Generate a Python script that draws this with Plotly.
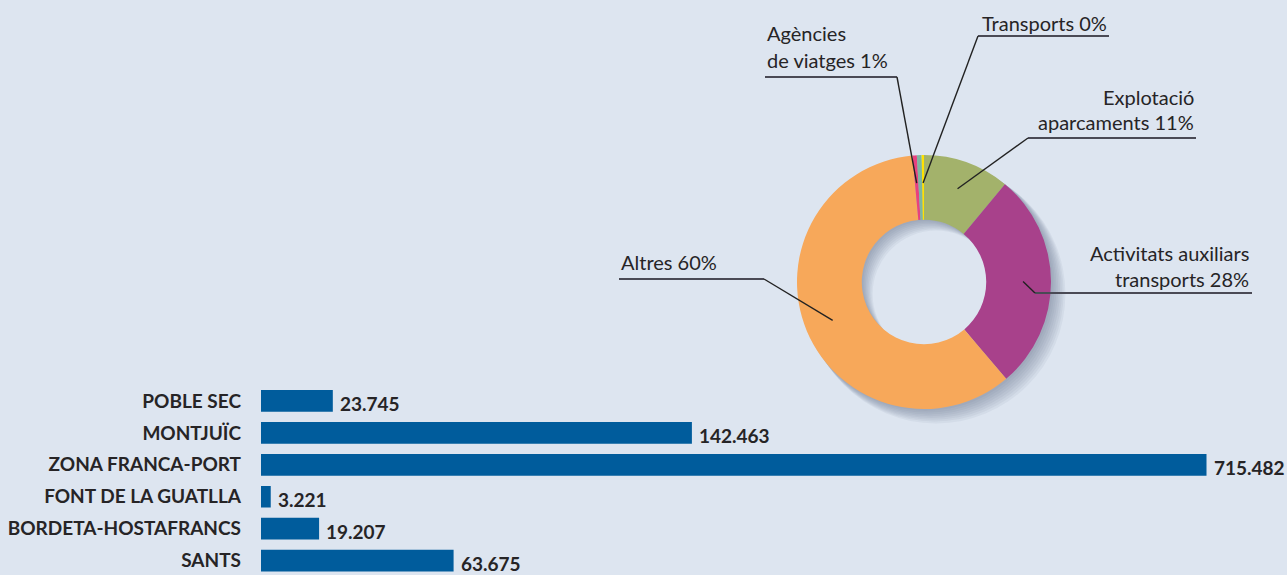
import math
import plotly.graph_objects as go

# ---------------- data ----------------
districts = ["POBLE SEC", "MONTJUÏC", "ZONA FRANCA-PORT",
             "FONT DE LA GUATLLA", "BORDETA-HOSTAFRANCS", "SANTS"]
district_values = [23745, 142463, 715482, 3221, 19207, 63675]

sector_lines = [["Explotació", "aparcaments"],
                ["Activitats auxiliars", "transports"],
                ["Altres"],
                ["Agències", "de viatges"],
                [],
                ["Transports"]]
sector_names = ["Explotació aparcaments", "Activitats auxiliars transports",
                "Altres", "Agències de viatges", "Altres serveis", "Transports"]
sector_values = [11.0, 27.8, 59.75, 0.55, 0.6, 0.3]
sector_colors = ["#a3b26b", "#a8418b", "#f7a85a", "#e8417f", "#7db6a1", "#ffe200"]

# ---------------- layout helpers ----------------
W, H = 1287, 575
BG = "#dde5f0"
TXT = "#262426"


def px(x):
    return x / W


def py(y):
    return 1 - y / H


fig = go.Figure()

# ---------------- bar chart ----------------
XMAX = 312600  # axis end; the largest bar is cut at the edge as in the original
fig.add_trace(go.Bar(
    x=district_values, y=districts, orientation="h",
    marker=dict(color="#005c9c", line=dict(width=0)),
    width=0.68, hoverinfo="x+y", xaxis="x", yaxis="y",
))
for d, v in zip(districts, district_values):
    fig.add_annotation(
        x=min(v, XMAX), y=d, xref="x", yref="y",
        text=f"{v:,}".replace(",", "."), showarrow=False,
        xanchor="left", yanchor="middle", xshift=5, yshift=-3,
        font=dict(family="Lato", size=19, color=TXT, weight="bold"),
    )

# ---------------- donut ----------------
dom_x = [px(797), px(1051)]
dom_y = [py(409), py(155)]
for k in range(2, 17, 2):
    fig.add_trace(go.Pie(
        values=[1], labels=["s"], hole=0.49, sort=False,
        marker=dict(colors=["rgba(95,110,140,0.075)"], line=dict(width=0)),
        textinfo="none", hoverinfo="skip", showlegend=False,
        domain=dict(x=[dom_x[0] + k * 0.6 / W, dom_x[1] + k * 0.9 / W],
                    y=[dom_y[0] - k * 0.9 / H, dom_y[1] - k * 0.6 / H]),
    ))
fig.add_trace(go.Pie(
    values=sector_values, labels=sector_names, hole=0.49, sort=False,
    direction="clockwise", rotation=0,
    marker=dict(colors=sector_colors, line=dict(width=0)),
    textinfo="none", hoverinfo="label+percent", showlegend=False,
    domain=dict(x=dom_x, y=dom_y),
))

# label placement (layout): text anchor x, side, line centres, underline y, underline x-range, elbow x
label_pos = {
    0: dict(tx=1196, side="right", ys=[97, 122], uy=138, ux=[1028, 1196], ex=1028),
    1: dict(tx=1251, side="right", ys=[253, 279], uy=293, ux=[1035, 1252], ex=1035),
    2: dict(tx=619, side="left", ys=[262], uy=279, ux=[619, 764], ex=764),
    3: dict(tx=765, side="left", ys=[33, 60], uy=77, ux=[765, 897], ex=897),
    5: dict(tx=980, side="left", ys=[23], uy=36, ux=[978, 1109], ex=978),
}
cx, cy, R = 924, 282, 127
total = sum(sector_values)
cum = 0.0
for i, v in enumerate(sector_values):
    mid = (cum + v / 2) / total * 2 * math.pi
    cum += v
    if i not in label_pos:
        continue
    p = label_pos[i]
    lines = list(sector_lines[i])
    lines[-1] = f"{lines[-1]} {v:.0f}%"
    for line, yy in zip(lines, p["ys"]):
        fig.add_annotation(
            x=px(p["tx"]), y=py(yy), xref="paper", yref="paper",
            text=line, showarrow=False, xanchor=p["side"], yanchor="middle",
            font=dict(family="Lato", size=20, color=TXT),
        )
    fig.add_shape(type="line", xref="paper", yref="paper",
                  x0=px(p["ux"][0]), x1=px(p["ux"][1]), y0=py(p["uy"]), y1=py(p["uy"]),
                  line=dict(color="#4a4a55", width=2.2))
    rr = 0.78 * R
    ex_, ey_ = cx + rr * math.sin(mid), cy - rr * math.cos(mid)
    fig.add_shape(type="line", xref="paper", yref="paper",
                  x0=px(p["ex"]), y0=py(p["uy"]), x1=px(ex_), y1=py(ey_),
                  line=dict(color="#222222", width=1.4))

fig.update_layout(
    width=W, height=H, margin=dict(l=0, r=0, t=0, b=0),
    paper_bgcolor=BG, plot_bgcolor=BG, showlegend=False,
    bargap=0.32,
    xaxis=dict(domain=[px(261), px(1206.5)], range=[0, XMAX], visible=False,
               fixedrange=True),
    yaxis=dict(domain=[0, py(385)], range=[5.45, -0.5], type="category",
               showgrid=False, zeroline=False, showline=False, ticks="",
               ticklabelstandoff=19,
               tickfont=dict(family="Lato", size=19, color=TXT, weight="bold")),
)

fig.write_html(
    "out.html",
    config={"displayModeBar": False},
    post_script=("document.body.style.margin='0';"
                 "document.body.style.overflow='hidden';"
                 f"document.body.style.background='{BG}';"),
)
